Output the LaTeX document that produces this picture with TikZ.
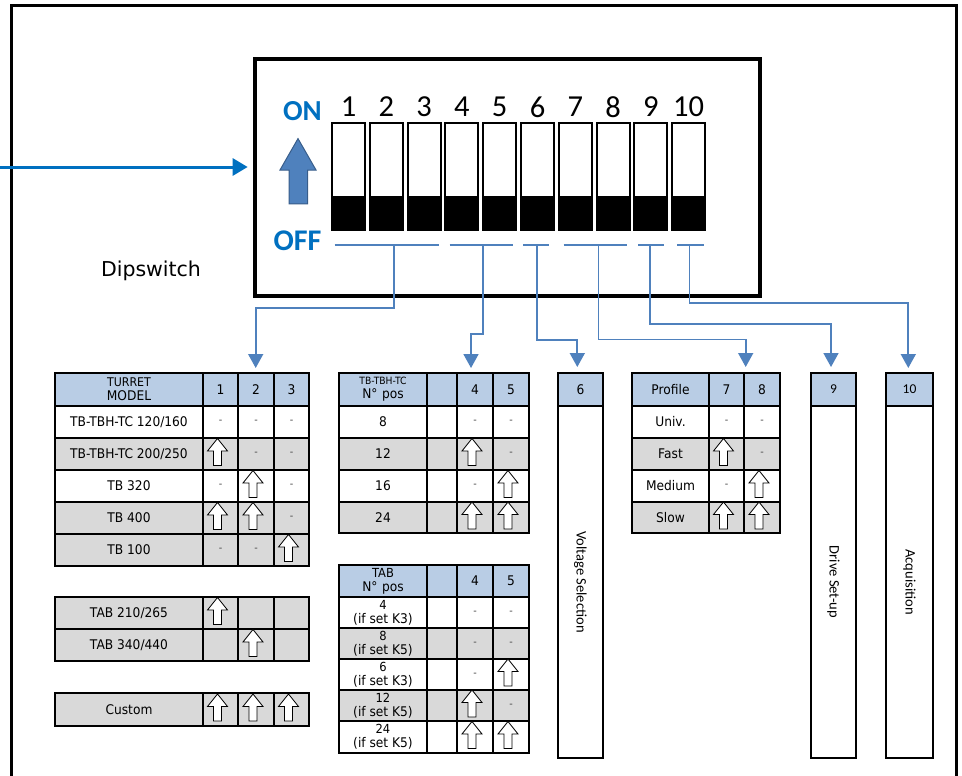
\documentclass[tikz,border=0pt]{standalone}
\usepackage{fontspec}
\setmainfont{DejaVu Sans}[FakeStretch=0.92]
\newfontfamily\calfont{Carlito}
\newfontfamily\dvsfont{DejaVu Sans}
\usetikzlibrary{arrows.meta,calc}
\definecolor{hdrblue}{HTML}{B9CDE5}
\definecolor{rowgray}{HTML}{D9D9D9}
\definecolor{lineblue}{HTML}{4F81BD}
\definecolor{txtblue}{HTML}{0070C0}
\definecolor{arrowedge}{HTML}{385D8A}
\tikzset{
  tcell/.style={draw, line width=1.9pt, inner sep=0pt, outer sep=0pt, align=center,
    font=\fontsize{13.3}{14}\selectfont},
  cellarr/.style={draw=black, line width=0.8pt, fill=white, line join=miter},
  conn/.style={draw=lineblue, line width=1.7pt, -{Triangle[length=14pt,width=15pt]}},
  bracket/.style={draw=lineblue, line width=1.7pt},
  swbox/.style={draw, line width=2pt, inner sep=0pt, outer sep=0pt, minimum width=33, minimum height=107.3},
  vtext/.style={rotate=-90, font=\calfont\fontsize{14.5}{16}\selectfont},
}
\newcommand\tc[7]{\node[tcell,fill=#5,minimum width={(#3)-(#1)},minimum height={(#4)-(#2)}] (#6) at ({((#1)+(#3))/2},{((#2)+(#4))/2}) {#7};}
\newcommand\dsh{\textcolor{black!70}{\fontsize{10.5}{10}\selectfont -}}
\newcommand\tsm{\fontsize{12.5}{14}\selectfont}
\newcommand\ua[1]{\draw[cellarr] ([shift={(-3,-2)}]#1.center) ++(0,-13.5) -- ++(10,12.5) -- ++(-6,0) -- ++(0,14.5) -- ++(-8,0) -- ++(0,-14.5) -- ++(-6,0) -- cycle;}
% row for turret tables: x 55,203,238,274,309
\newcommand\rowT[8]{\tc{55}{#2}{203}{#3}{#4}{#1l}{#5}\tc{203}{#2}{238}{#3}{#4}{#1a}{#6}\tc{238}{#2}{274}{#3}{#4}{#1b}{#7}\tc{274}{#2}{309}{#3}{#4}{#1c}{#8}}
% row for pos tables: x 339,427,457,493,529
\newcommand\rowN[7]{\tc{339}{#2}{427}{#3}{#4}{#1l}{#5}\tc{427}{#2}{457}{#3}{#4}{#1e}{}\tc{457}{#2}{493}{#3}{#4}{#1a}{#6}\tc{493}{#2}{529}{#3}{#4}{#1b}{#7}}
% row for profile table: x 632,709,744,780
\newcommand\rowP[7]{\tc{632}{#2}{709}{#3}{#4}{#1l}{#5}\tc{709}{#2}{744}{#3}{#4}{#1a}{#6}\tc{744}{#2}{780}{#3}{#4}{#1b}{#7}}
\begin{document}
\begin{tikzpicture}[x=1pt,y=-1pt]
\useasboundingbox (0,0) rectangle (962,776);
\clip (0,0) rectangle (962,776);
\fill[white] (0,0) rectangle (962,776);
% outer frame
\draw[line width=3pt] (11,6) rectangle (956,800);
% dipswitch box
\node[draw, line width=4pt, minimum width=505, minimum height=236.5, inner sep=0pt, outer sep=0pt] (dip) at (507.5,177.75) {};
\coordinate (src) at (0,167);
\draw[draw=txtblue, line width=3pt, -{Triangle[length=15pt,width=17pt]}, shorten >=7.3pt] (src) -- (dip.west |- src);
\node[font=\dvsfont\fontsize{20.5}{22}\selectfont] (dlabel) at (151,270.5) {Dipswitch};
% switches
\foreach \i in {1,...,10} {
  \pgfmathsetmacro\xc{332+37.8*(\i-1)+16.5}
  \node[swbox] (sw\i) at (\xc,176.35) {};
  \fill ($(sw\i.south west)+(1,0)$) rectangle ($(sw\i.south east)+(-1,-34)$);
  \node[font=\calfont\fontsize{30.5}{30}\selectfont, inner sep=0pt] (n\i) at (\xc,107) {\i};
}
\node[font=\calfont\bfseries\fontsize{29}{29}\selectfont, text=txtblue] (on) at (302.5,111) {ON};
\node[font=\calfont\bfseries\fontsize{30}{30}\selectfont, text=txtblue] (off) at (297.5,241) {OFF};
\draw[fill=lineblue, draw=arrowedge, line width=1pt] (298,138.6) -- (316,170) -- (307.6,170) -- (307.6,203.8) -- (289,203.8) -- (289,170) -- (280,170) -- cycle;
% brackets
\draw[bracket] (334.7,245) -- (438.8,245);
\draw[bracket] (449.6,245) -- (513,245);
\draw[bracket] (523,245) -- (549,245);
\draw[bracket] (563.5,245) -- (627,245);
\draw[bracket] (638,245) -- (664,245);
\draw[bracket] (677,245) -- (704,245);
\coordinate (bk1) at (393.8,245);
\coordinate (bk2) at (483.3,245);
\coordinate (bk3) at (537,245);
\coordinate (bk4) at (598.4,245);
\coordinate (bk5) at (650.3,245);
\coordinate (bk6) at (689.5,245);
\coordinate (tip1) at (255.7,368);
\coordinate (tip2) at (471,368);
\coordinate (tip3) at (577.3,367);
\coordinate (tip4) at (745.7,367);
\coordinate (tip5) at (831,367);
\coordinate (tip6) at (908.3,368);
\draw[conn] (bk1) -- ++(0,63) -| (tip1);
\draw[conn] (bk2) -- ++(0,89) -| (tip2);
\draw[conn] (bk3) -- ++(0,95) -| (tip3);
\draw[conn] (bk4) -- ++(0,94.5) -| (tip4);
\draw[conn] (bk5) -- ++(0,79) -| (tip5);
\draw[conn] (bk6) -- ++(0,58) -| (tip6);
% table 1 turret
\tc{55}{373}{203}{406}{hdrblue}{t1h}{\fontsize{12}{14.5}\selectfont TURRET\\MODEL}
\tc{203}{373}{238}{406}{hdrblue}{t1h1}{1}
\tc{238}{373}{274}{406}{hdrblue}{t1h2}{2}
\tc{274}{373}{309}{406}{hdrblue}{t1h3}{3}
\rowT{ta}{406}{438}{white}{TB-TBH-TC 120/160}{\dsh}{\dsh}{\dsh}
\rowT{tb}{438}{470}{rowgray}{TB-TBH-TC 200/250}{}{\dsh}{\dsh}
\rowT{tc}{470}{502}{white}{TB 320}{\dsh}{}{\dsh}
\rowT{td}{502}{534}{rowgray}{TB 400}{}{}{\dsh}
\rowT{te}{534}{566}{rowgray}{TB 100}{\dsh}{\dsh}{}
\ua{tba}\ua{tcb}\ua{tda}\ua{tdb}\ua{tec}
% TAB 210/265 and 340/440
\rowT{tf}{597}{629}{rowgray}{TAB 210/265}{}{}{}
\rowT{tg}{629}{661}{rowgray}{TAB 340/440}{}{}{}
\ua{tfa}\ua{tgb}
% custom
\rowT{th}{693}{726}{rowgray}{Custom}{}{}{}
\ua{tha}\ua{thb}\ua{thc}
% table 2
\tc{339}{373}{427}{406}{hdrblue}{p1h}{{\fontsize{10}{12}\selectfont TB-TBH-TC}\\N°\,\,pos}
\tc{427}{373}{457}{406}{hdrblue}{p1he}{}
\tc{457}{373}{493}{406}{hdrblue}{p1h4}{4}
\tc{493}{373}{529}{406}{hdrblue}{p1h5}{5}
\rowN{pa}{406}{438}{white}{8}{\dsh}{\dsh}
\rowN{pb}{438}{470}{rowgray}{12}{}{\dsh}
\rowN{pc}{470}{502}{white}{16}{\dsh}{}
\rowN{pd}{502}{533}{rowgray}{24}{}{}
\ua{pba}\ua{pcb}\ua{pda}\ua{pdb}
% table 3 TAB
\tc{339}{565}{427}{597}{hdrblue}{q1h}{\tsm TAB\\N°\,\,pos}
\tc{427}{565}{457}{597}{hdrblue}{q1he}{}
\tc{457}{565}{493}{597}{hdrblue}{q1h4}{4}
\tc{493}{565}{529}{597}{hdrblue}{q1h5}{5}
\rowN{qa}{597}{628}{white}{\tsm 4\\(if set K3)}{\dsh}{\dsh}
\rowN{qb}{628}{659}{rowgray}{\tsm 8\\(if set K5)}{\dsh}{\dsh}
\rowN{qc}{659}{690}{white}{\tsm 6\\(if set K3)}{\dsh}{}
\rowN{qd}{690}{721}{rowgray}{\tsm 12\\(if set K5)}{}{\dsh}
\rowN{qe}{721}{753}{white}{\tsm 24\\(if set K5)}{}{}
\ua{qcb}\ua{qda}\ua{qea}\ua{qeb}
% voltage column
\tc{558}{373}{603}{406}{hdrblue}{v6h}{6}
\tc{558}{406}{603}{758}{white}{v6b}{}
\node[vtext] (v6t) at (v6b.center) {Voltage Selection};
% profile table
\tc{632}{373}{709}{406}{hdrblue}{rh}{Profile}
\tc{709}{373}{744}{406}{hdrblue}{rh7}{7}
\tc{744}{373}{780}{406}{hdrblue}{rh8}{8}
\rowP{ra}{406}{438}{white}{Univ.}{\dsh}{\dsh}
\rowP{rb}{438}{470}{rowgray}{Fast}{}{\dsh}
\rowP{rc}{470}{502}{white}{Medium}{\dsh}{}
\rowP{rd}{502}{533}{rowgray}{Slow}{}{}
\ua{rba}\ua{rcb}\ua{rda}\ua{rdb}
% drive set-up
\tc{811}{373}{856}{406}{hdrblue}{d9h}{\calfont\fontsize{13.5}{14}\selectfont 9}
\tc{811}{406}{856}{758}{white}{d9b}{}
\node[vtext] (d9t) at (d9b.center) {Drive Set-up};
% acquisition
\tc{886}{373}{933}{406}{hdrblue}{a10h}{\calfont\fontsize{13.5}{14}\selectfont 10}
\tc{886}{406}{933}{758}{white}{a10b}{}
\node[vtext] (a10t) at (a10b.center) {Acquisition};
\end{tikzpicture}
\end{document}
